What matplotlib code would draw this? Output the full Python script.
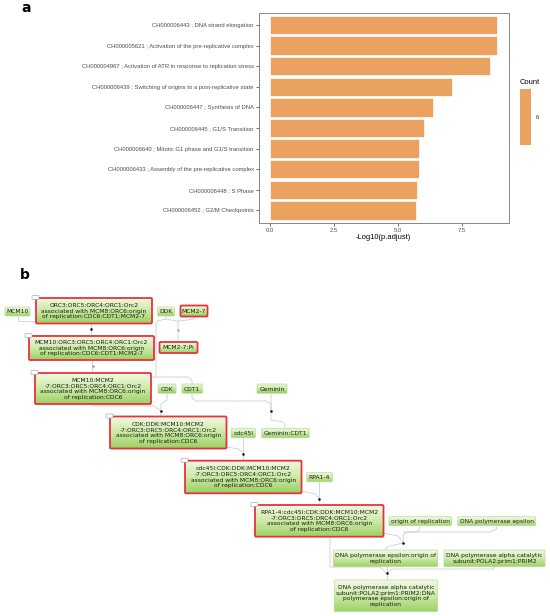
import numpy as np
import matplotlib
matplotlib.use("Agg")
import matplotlib.pyplot as plt
from matplotlib.patches import FancyBboxPatch, Rectangle
from matplotlib.colors import LinearSegmentedColormap

# ---- panel a data ----
terms = [
    "CH000006443 ; DNA strand elongation",
    "CH000005621 ; Activation of the pre-replicative complex",
    "CH000004967 ; Activation of ATR in response to replication stress",
    "CH000006439 ; Switching of origins to a post-replicative state",
    "CH000006447 ; Synthesis of DNA",
    "CH000006445 ; G1/S Transition",
    "CH000006640 ; Mitotic G1 phase and G1/S transition",
    "CH000006433 ; Assembly of the pre-replicative complex",
    "CH000006448 ; S Phase",
    "CH000006452 ; G2/M Checkpoints",
]
neg_log_padj = [8.89, 8.89, 8.61, 7.13, 6.39, 6.02, 5.84, 5.84, 5.77, 5.71]
counts = [6, 6, 6, 6, 6, 6, 6, 6, 6, 6]
x_ticks = [0.0, 2.5, 5.0, 7.5]

# ---- panel b data (pathway nodes) ----
node_labels = [
    "MCM10",
    "ORC3:ORC5:ORC4:ORC1:Orc2\nassociated with MCM8:ORC6:origin\nof replication:CDC6:CDT1:MCM2-7",
    "DDK",
    "MCM2-7",
    "MCM10:ORC3:ORC5:ORC4:ORC1:Orc2\nassociated with MCM8:ORC6:origin\nof replication:CDC6:CDT1:MCM2-7",
    "MCM2-7:Pi",
    "MCM10:MCM2\n-7:ORC3:ORC5:ORC4:ORC1:Orc2\nassociated with MCM8:ORC6:origin\nof replication:CDC6",
    "CDK",
    "CDT1",
    "Geminin",
    "CDK:DDK:MCM10:MCM2\n-7:ORC3:ORC5:ORC4:ORC1:Orc2\nassociated with MCM8:ORC6:origin\nof replication:CDC6",
    "cdc45l",
    "Geminin:CDT1",
    "cdc45l:CDK:DDK:MCM10:MCM2\n-7:ORC3:ORC5:ORC4:ORC1:Orc2\nassociated with MCM8:ORC6:origin\nof replication:CDC6",
    "RPA1-4",
    "RPA1-4:cdc45l:CDK:DDK:MCM10:MCM2\n-7:ORC3:ORC5:ORC4:ORC1:Orc2\nassociated with MCM8:ORC6:origin\nof replication:CDC6",
    "origin of replication",
    "DNA polymerase epsilon",
    "DNA polymerase epsilon:origin of\nreplication",
    "DNA polymerase alpha catalytic\nsubunit:POLA2:prim1:PRIM2",
    "DNA polymerase alpha catalytic\nsubunit:POLA2:prim1:PRIM2:DNA\npolymerase epsilon:origin of\nreplication",
]
node_hit = [0, 1, 0, 1, 1, 1, 1, 0, 0, 0, 1, 0, 0, 1, 0, 1, 0, 0, 0, 0, 0]

# layout in pixels (left, top, width, height)
node_box = [
    (5, 307, 25, 9), (36, 298, 116, 25.5), (157.5, 307, 17, 9), (180.5, 305.5, 27, 11),
    (29, 336, 125, 24), (159.5, 342, 38, 11), (35, 373, 116, 31), (158, 384, 18, 9.5),
    (182, 384, 20.5, 9.5), (257, 384, 30, 9.5), (110, 416.5, 116.5, 32),
    (231, 428.3, 24.5, 9.5), (261.7, 428.3, 47.5, 9.5), (185, 460.7, 116.5, 32.6),
    (306.7, 472.3, 25.6, 9.5), (255, 505, 128.5, 31.7), (389, 516.7, 62.7, 9),
    (457.7, 516.7, 78, 9), (333.3, 550, 104.4, 16.7), (444, 550, 101, 16.7),
    (334.3, 580, 103.4, 31.7),
]
dots = [(91, 329.3, 'black'), (92.7, 366, '#999999'), (178, 329.5, '#aaaaaa'),
        (160.7, 411, 'black'), (271, 411, 'black'), (243.3, 454.3, 'black'),
        (319.3, 499, 'black'), (403.3, 543, 'black'), (386.5, 573.3, 'black')]
links = [
    [(17.5, 316), (17.5, 321), (40, 321)],
    [(91, 323), (91, 336)],
    [(92.5, 360), (92.7, 373)],
    [(166, 316), (166, 319), (157, 321), (156, 324), (156, 377)],
    [(151, 377), (188, 377), (192, 380), (192, 384)],
    [(166, 319), (176, 321), (178, 321)],
    [(194, 316.5), (194, 319), (180, 321), (178, 321), (178, 342)],
    [(192, 393.5), (192, 398), (196, 401), (266, 401), (271, 404), (271, 411)],
    [(271, 393.5), (271, 420), (283, 422), (285, 425), (285, 428.3)],
    [(167, 393.5), (167, 400), (161, 404), (160.7, 416.5)],
    [(93, 404), (93, 406), (154, 406), (160.7, 411)],
    [(226.5, 447), (239, 449), (243.3, 454.3)],
    [(243.3, 437.8), (243.3, 460.7)],
    [(301.5, 491), (315, 494), (319.3, 499)],
    [(319.5, 481.8), (319.3, 505)],
    [(383.5, 533), (398, 536), (403.3, 543)],
    [(420, 525.7), (420, 529), (416, 532), (403.3, 532)],
    [(496.7, 525.7), (496.7, 529), (490, 532), (407, 532), (403.3, 535), (403.3, 543)],
    [(403.3, 543), (390, 546), (386, 548), (386, 550)],
    [(330, 536.7), (330, 567), (380, 567), (386.5, 573.3)],
    [(386.5, 566.7), (386.5, 580)],
    [(494, 566.7), (494, 569), (392, 569), (386.5, 573.3)],
]

W, H = 550, 616
fig = plt.figure(figsize=(5.5, 6.16), dpi=100)
fig.patch.set_facecolor('white')

bar_color = '#EBA15F'
grey = '#4D4D4D'

# ---------------- panel a ----------------
ax = fig.add_axes([258.5 / W, 1 - 222.8 / H, (508.6 - 258.5) / W, (222.8 - 12.6) / H])
n = len(terms)
ypos = np.arange(n)[::-1]
ax.barh(ypos, neg_log_padj, height=0.9, color=bar_color, edgecolor='white', linewidth=0.5)
xmax = max(neg_log_padj)
ax.set_xlim(-0.05 * xmax, 1.05 * xmax)
ax.set_ylim(-0.6, n - 0.4)
ax.set_yticks(ypos)
ax.set_yticklabels(terms, fontsize=4.2, color=grey, family='Liberation Sans')
ax.set_xticks(x_ticks)
ax.set_xticklabels(["%.1f" % t for t in x_ticks], fontsize=4.2, color=grey,
                   family='Liberation Sans')
ax.tick_params(length=2.2, width=0.5, color='#333333', pad=1.2)
ax.set_xlabel("-Log10(p.adjust)", fontsize=5.4, family='Liberation Sans', labelpad=1)
for s in ax.spines.values():
    s.set_color('#888888')
    s.set_linewidth(0.7)

# count legend (single value)
fig.text(520 / W, 1 - 82.3 / H, "Count", fontsize=5.4, family='Liberation Sans',
         va='center', ha='left')
fig.patches.append(Rectangle((520 / W, 1 - 145 / H), 11 / W, (145 - 89.3) / H,
                             transform=fig.transFigure, color=bar_color, lw=0))
fig.text(535.5 / W, 1 - 117.3 / H, str(counts[0]), fontsize=4.2, family='Liberation Sans',
         va='center', ha='left', color='#333333')

fig.text(26.3 / W, 1 - 7.7 / H, "a", fontsize=10, fontweight='bold', va='center', ha='center')
fig.text(25 / W, 1 - 275 / H, "b", fontsize=10, fontweight='bold', va='center', ha='center')

# ---------------- panel b ----------------
ax2 = fig.add_axes([0, 0, 1, 1])
ax2.set_xlim(0, W)
ax2.set_ylim(H, 0)
ax2.axis('off')
ax2.patch.set_alpha(0)

for pts in links:
    xs, ys = zip(*pts)
    ax2.plot(xs, ys, color='#cfcfcf', lw=0.6, zorder=1, solid_capstyle='round')

green = LinearSegmentedColormap.from_list('g', ['#f2f9e6', '#cdeaa5', '#9cd166'])
grad = np.linspace(0, 1, 64).reshape(-1, 1)

for lab, (x0, y0, w, h), hit in zip(node_labels, node_box, node_hit):
    patch = FancyBboxPatch((x0, y0), w, h, boxstyle="round,pad=0,rounding_size=1.2",
                           facecolor='none',
                           edgecolor='#e8333d' if hit else '#b9dc98',
                           lw=1.3 if hit else 0.5, zorder=4)
    ax2.add_patch(patch)
    im = ax2.imshow(grad, extent=(x0, x0 + w, y0 + h, y0), cmap=green, aspect='auto',
                    origin='upper', zorder=3, interpolation='bilinear')
    im.set_clip_path(patch)
    ax2.text(x0 + w / 2, y0 + h / 2 + 0.3, lab, fontsize=4.3, ha='center', va='center',
             multialignment='center', linespacing=1.15, color='#1a1a1a',
             family='DejaVu Sans', zorder=5)
    if hit and h > 20:
        # small complex icon on the top-left corner
        ax2.add_patch(FancyBboxPatch((x0 - 4, y0 - 2.5), 7, 4,
                                     boxstyle="round,pad=0,rounding_size=0.8",
                                     facecolor='white', edgecolor='#9a9a9a', lw=0.4, zorder=6))

for dx, dy, c in dots:
    ax2.plot(dx, dy, 'o', ms=1.8, color=c, mec='none', zorder=2)

fig.savefig("out.png", dpi=100)
